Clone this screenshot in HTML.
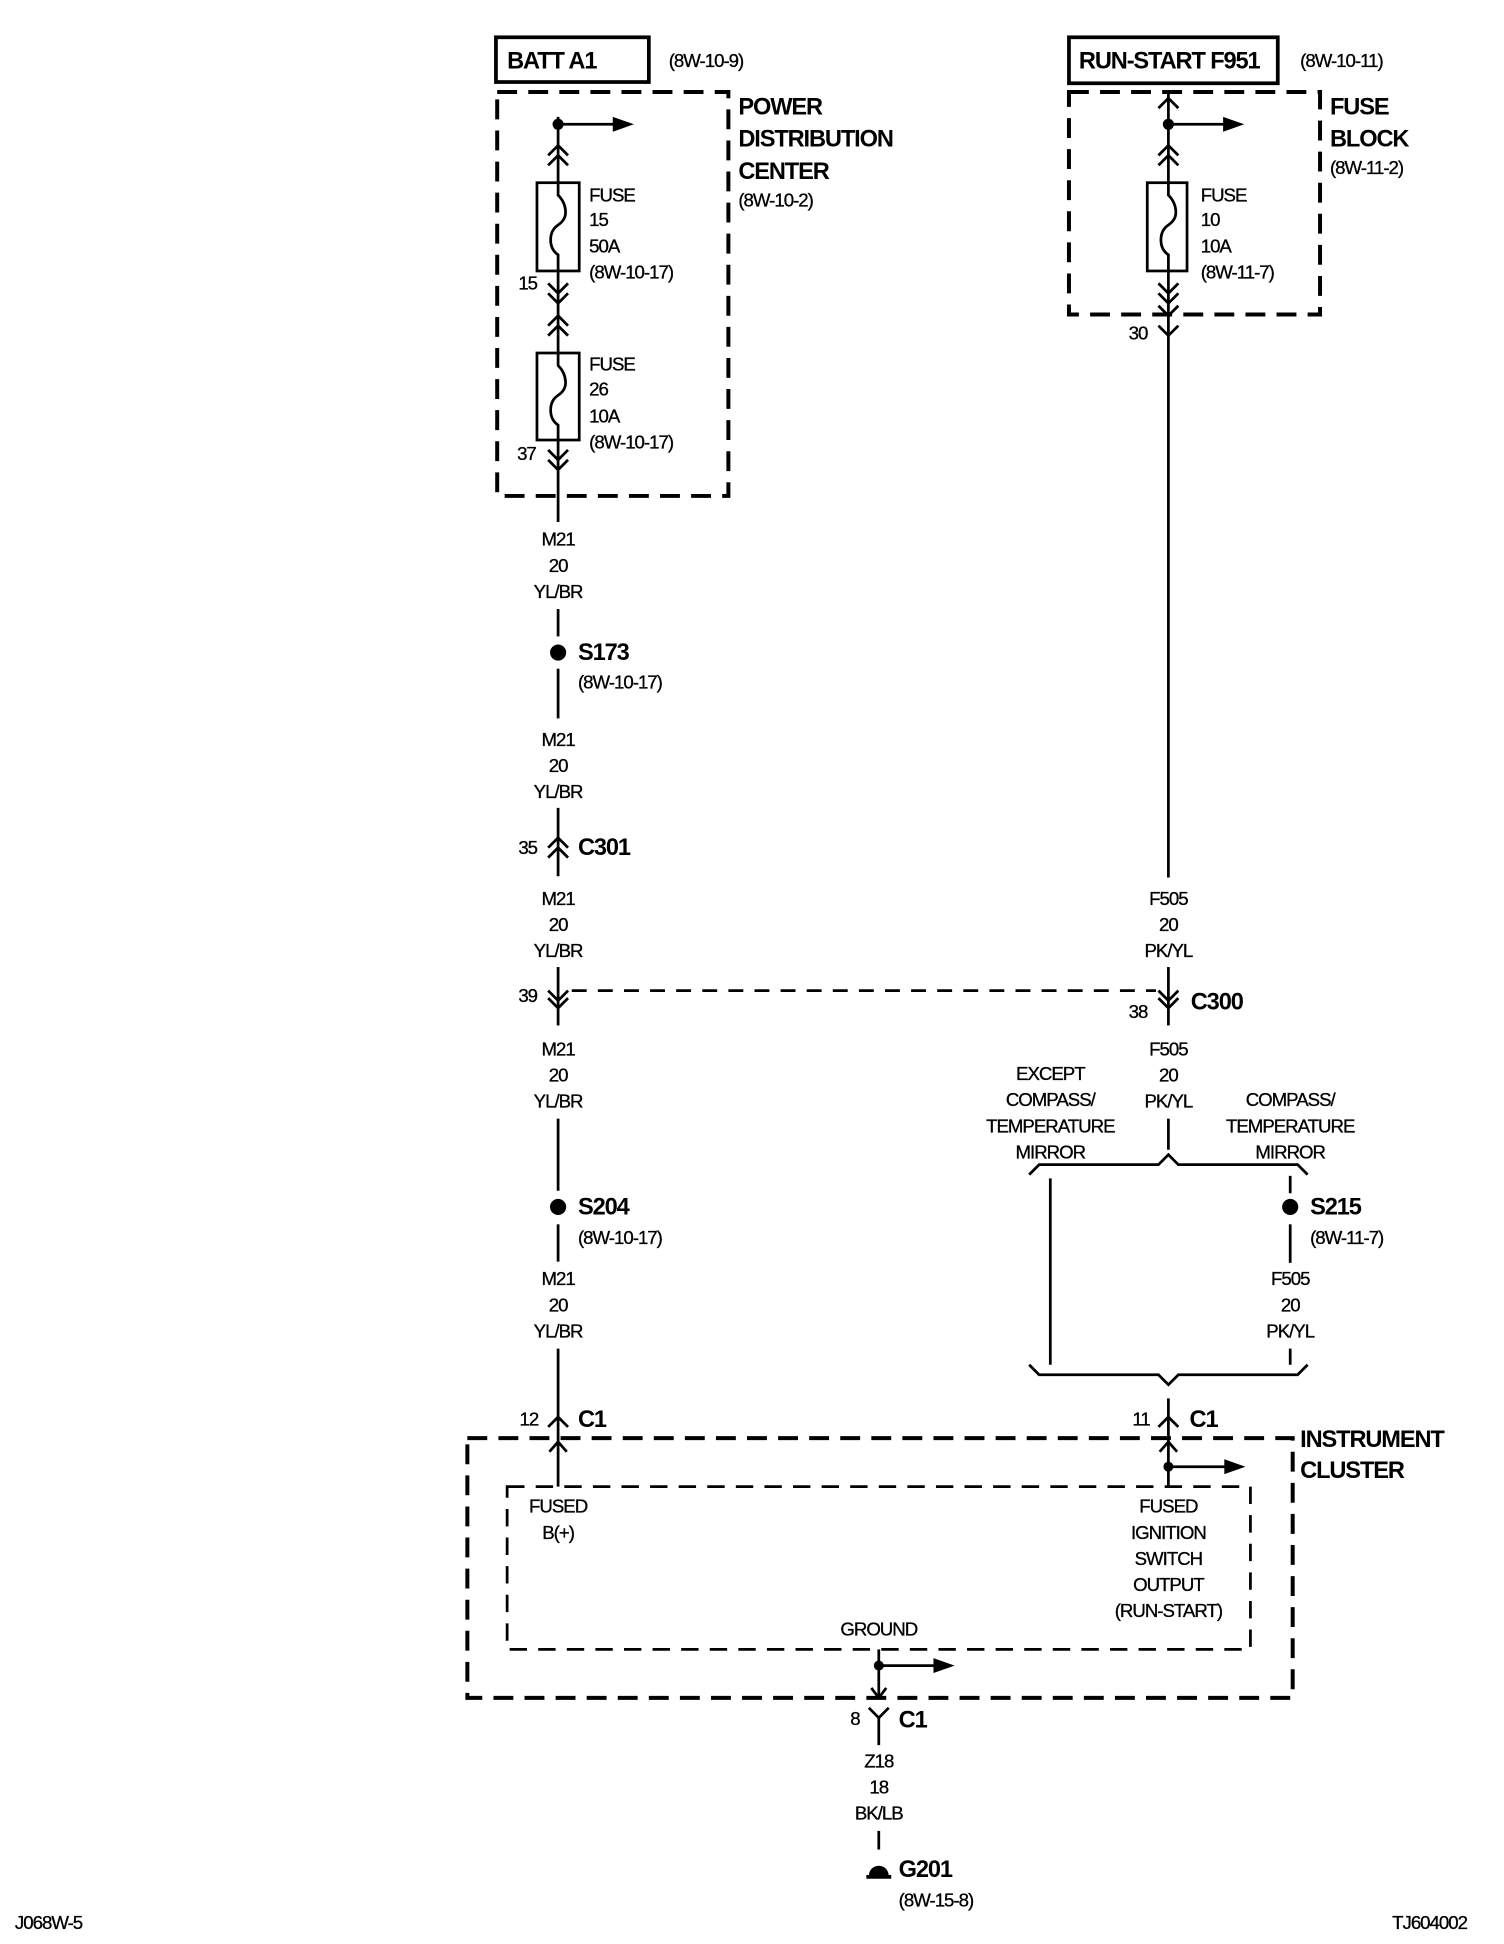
<!DOCTYPE html>
<html><head><meta charset="utf-8"><style>
html,body{margin:0;padding:0;background:#fff}
svg{display:block}
text{font-family:"Liberation Sans",Arial,sans-serif;fill:#000}
.s{font-size:15px;letter-spacing:-0.8px;stroke:#000;stroke-width:0.25px}
.b{font-size:19px;font-weight:bold;letter-spacing:-0.9px}
.c{text-anchor:middle}
</style></head><body>
<svg width="1504" height="1944" viewBox="0 0 1210 1564" xmlns="http://www.w3.org/2000/svg">
<g stroke="#000" stroke-width="2.2" fill="none">
<rect x="399" y="30" width="123" height="36" stroke-width="3"/>
<rect x="860" y="30" width="168" height="37" stroke-width="3"/>
<rect x="400" y="74" width="186" height="325" stroke-width="3.2" stroke-dasharray="16,9"/>
<rect x="860" y="74" width="202" height="179" stroke-width="3.2" stroke-dasharray="16,9"/>
<rect x="376" y="1157" width="664" height="209" stroke-width="3.2" stroke-dasharray="16,9"/>
<rect x="408" y="1196" width="598" height="131" stroke-width="2.2" stroke-dasharray="14,9"/>
<line x1="460" y1="797" x2="930" y2="797" stroke-dasharray="12,9"/>
<line x1="449" y1="94" x2="449" y2="147"/>
<line x1="449" y1="218" x2="449" y2="284"/>
<line x1="449" y1="354" x2="449" y2="420"/>
<line x1="449" y1="490" x2="449" y2="512"/>
<line x1="449" y1="538" x2="449" y2="578"/>
<line x1="449" y1="650" x2="449" y2="705"/>
<line x1="449" y1="778" x2="449" y2="825"/>
<line x1="449" y1="900" x2="449" y2="958"/>
<line x1="449" y1="985" x2="449" y2="1015"/>
<line x1="449" y1="1085" x2="449" y2="1196"/>
<rect x="432" y="147" width="34" height="71"/>
<path d="M449 147 v10 q6 6 6 14 q0 6 -6 10 q-6 4 -6 12 q0 8 6 12 v13"/>
<rect x="432" y="284" width="34" height="70"/>
<path d="M449 284 v10 q6 6 6 14 q0 6 -6 10 q-6 4 -6 12 q0 8 6 12 v12"/>
<polyline points="441,125 449,117 457,125"/><polyline points="441,133 449,125 457,133"/>
<polyline points="441,228 449,236 457,228"/><polyline points="441,236 449,244 457,236"/>
<polyline points="441,262 449,254 457,262"/><polyline points="441,270 449,262 457,270"/>
<polyline points="441,362 449,370 457,362"/><polyline points="441,370 449,378 457,370"/>
<polyline points="441,682 449,674 457,682"/><polyline points="441,690 449,682 457,690"/>
<polyline points="441,797 449,805 457,797"/><polyline points="441,803 449,811 457,803"/>
<polyline points="441,1148 449,1140 457,1148"/>
<polyline points="442,1168 449,1160 456,1168"/>
<line x1="940" y1="74" x2="940" y2="147"/>
<line x1="940" y1="218" x2="940" y2="706"/>
<line x1="940" y1="778" x2="940" y2="825"/>
<line x1="940" y1="900" x2="940" y2="925"/>
<rect x="923" y="147" width="32" height="71"/>
<path d="M940 147 v10 q6 6 6 14 q0 6 -6 10 q-6 4 -6 12 q0 8 6 12 v13"/>
<polyline points="932,87 940,79 948,87"/>
<polyline points="932,125 940,117 948,125"/><polyline points="932,133 940,125 948,133"/>
<polyline points="932,228 940,236 948,228"/><polyline points="932,236 940,244 948,236"/>
<polyline points="932,246 940,254 948,246"/>
<polyline points="932,262 940,270 948,262"/>
<polyline points="932,797 940,805 948,797"/><polyline points="932,803 940,811 948,803"/>
<path d="M828 945 l8 -8 h96 l8 -8 l8 8 h96 l8 8"/>
<path d="M828 1098 l8 8 h96 l8 8 l8 -8 h96 l8 -8"/>
<line x1="845" y1="948" x2="845" y2="1098"/>
<line x1="1038" y1="946" x2="1038" y2="960"/>
<line x1="1038" y1="985" x2="1038" y2="1016"/>
<line x1="1038" y1="1085" x2="1038" y2="1098"/>
<line x1="940" y1="1125" x2="940" y2="1196"/>
<polyline points="932,1148 940,1140 948,1148"/>
<polyline points="933,1168 940,1160 947,1168"/>
<line x1="707" y1="1327" x2="707" y2="1366"/>
<polyline points="701,1358 707,1366 713,1358"/>
<polyline points="699,1374 707,1382 715,1374"/>
<line x1="707" y1="1382" x2="707" y2="1404"/>
<line x1="707" y1="1473" x2="707" y2="1488"/>
<line x1="697" y1="1510" x2="717" y2="1510" stroke-width="3"/>
<line x1="449" y1="100" x2="495" y2="100"/>
<line x1="940" y1="100" x2="986" y2="100"/>
<line x1="940" y1="1180" x2="987" y2="1180"/>
<line x1="707" y1="1340" x2="753" y2="1340"/>
</g>
<g fill="#000">
<polygon points="493,94 510,100 493,106"/>
<polygon points="984,94 1001,100 984,106"/>
<polygon points="985,1174 1002,1180 985,1186"/>
<polygon points="751,1334 768,1340 751,1346"/>
<circle cx="449" cy="100" r="4.5"/><circle cx="940" cy="100" r="4.5"/>
<circle cx="940" cy="1180" r="4"/><circle cx="707" cy="1340" r="4"/>
<circle cx="449" cy="525" r="6.5"/><circle cx="449" cy="971" r="6.5"/><circle cx="1038" cy="971" r="6.5"/>
<path d="M699 1509 a8 8 0 0 1 16 0 z"/>
</g>
<text class="b" x="408" y="55">BATT A1</text>
<text class="s" x="538" y="54">(8W-10-9)</text>
<text class="b" x="868" y="55">RUN-START F951</text>
<text class="s" x="1046" y="54">(8W-10-11)</text>
<text class="b" x="594" y="92">POWER</text>
<text class="b" x="594" y="118">DISTRIBUTION</text>
<text class="b" x="594" y="144">CENTER</text>
<text class="s" x="594" y="166">(8W-10-2)</text>
<text class="b" x="1070" y="92">FUSE</text>
<text class="b" x="1070" y="118">BLOCK</text>
<text class="s" x="1070" y="140">(8W-11-2)</text>
<text class="s" x="474" y="162">FUSE</text><text class="s" x="474" y="182">15</text><text class="s" x="474" y="203">50A</text><text class="s" x="474" y="224">(8W-10-17)</text>
<text class="s" x="474" y="298">FUSE</text><text class="s" x="474" y="318">26</text><text class="s" x="474" y="340">10A</text><text class="s" x="474" y="361">(8W-10-17)</text>
<text class="s" x="966" y="162">FUSE</text><text class="s" x="966" y="182">10</text><text class="s" x="966" y="203">10A</text><text class="s" x="966" y="224">(8W-11-7)</text>
<text class="s" x="417" y="233">15</text>
<text class="s" x="416" y="370">37</text>
<text class="s" x="908" y="273">30</text>
<text class="s c" x="449" y="439">M21</text><text class="s c" x="449" y="460">20</text><text class="s c" x="449" y="481">YL/BR</text>
<text class="s c" x="449" y="600">M21</text><text class="s c" x="449" y="621">20</text><text class="s c" x="449" y="642">YL/BR</text>
<text class="s c" x="449" y="728">M21</text><text class="s c" x="449" y="749">20</text><text class="s c" x="449" y="770">YL/BR</text>
<text class="s c" x="449" y="849">M21</text><text class="s c" x="449" y="870">20</text><text class="s c" x="449" y="891">YL/BR</text>
<text class="s c" x="449" y="1034">M21</text><text class="s c" x="449" y="1055">20</text><text class="s c" x="449" y="1076">YL/BR</text>
<text class="s c" x="940" y="728">F505</text><text class="s c" x="940" y="749">20</text><text class="s c" x="940" y="770">PK/YL</text>
<text class="s c" x="940" y="849">F505</text><text class="s c" x="940" y="870">20</text><text class="s c" x="940" y="891">PK/YL</text>
<text class="s c" x="1038" y="1034">F505</text><text class="s c" x="1038" y="1055">20</text><text class="s c" x="1038" y="1076">PK/YL</text>
<text class="s c" x="845" y="869">EXCEPT</text><text class="s c" x="845" y="890">COMPASS/</text><text class="s c" x="845" y="911">TEMPERATURE</text><text class="s c" x="845" y="932">MIRROR</text>
<text class="s c" x="1038" y="890">COMPASS/</text><text class="s c" x="1038" y="911">TEMPERATURE</text><text class="s c" x="1038" y="932">MIRROR</text>
<text class="s c" x="449" y="1217">FUSED</text><text class="s c" x="449" y="1238">B(+)</text>
<text class="s c" x="940" y="1217">FUSED</text><text class="s c" x="940" y="1238">IGNITION</text><text class="s c" x="940" y="1259">SWITCH</text><text class="s c" x="940" y="1280">OUTPUT</text><text class="s c" x="940" y="1301">(RUN-START)</text>
<text class="s c" x="707" y="1316">GROUND</text>
<text class="s c" x="707" y="1422">Z18</text><text class="s c" x="707" y="1443">18</text><text class="s c" x="707" y="1464">BK/LB</text>
<text class="b" x="465" y="531">S173</text><text class="s" x="465" y="554">(8W-10-17)</text>
<text class="b" x="465" y="977">S204</text><text class="s" x="465" y="1001">(8W-10-17)</text>
<text class="b" x="1054" y="977">S215</text><text class="s" x="1054" y="1001">(8W-11-7)</text>
<text class="s" x="417" y="687">35</text><text class="b" x="465" y="688">C301</text>
<text class="s" x="417" y="806">39</text>
<text class="s" x="908" y="819">38</text><text class="b" x="958" y="812">C300</text>
<text class="s" x="418" y="1147">12</text><text class="b" x="465" y="1148">C1</text>
<text class="s" x="911" y="1147">11</text><text class="b" x="957" y="1148">C1</text>
<text class="b" x="1046" y="1164">INSTRUMENT</text><text class="b" x="1046" y="1189">CLUSTER</text>
<text class="s" x="684" y="1388">8</text><text class="b" x="723" y="1390">C1</text>
<text class="b" x="723" y="1510">G201</text><text class="s" x="723" y="1534">(8W-15-8)</text>
<text class="s" x="12" y="1552">J068W-5</text>
<text class="s" x="1120" y="1552">TJ604002</text>
</svg>
</body></html>
